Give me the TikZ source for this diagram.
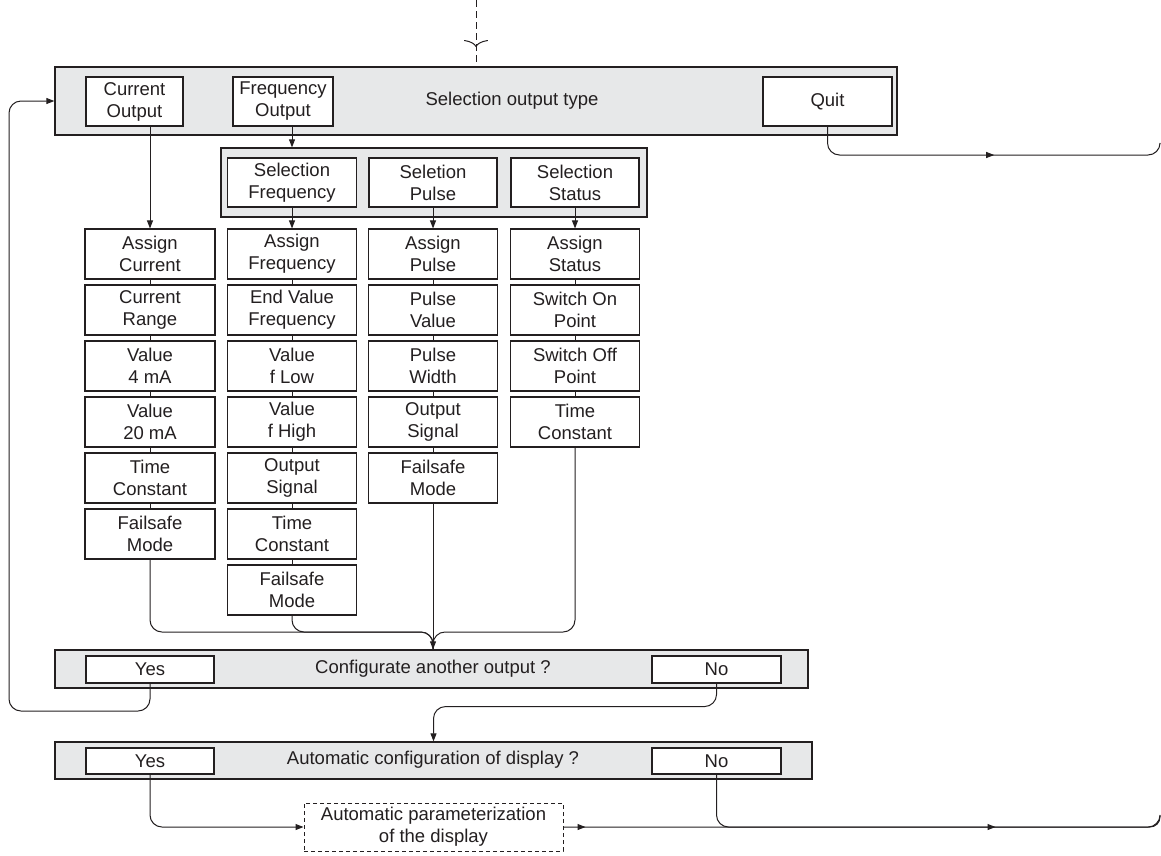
\documentclass[tikz,border=0pt]{standalone}
\usepackage{fontspec}
\setmainfont{Liberation Sans}
\usetikzlibrary{arrows.meta,positioning,calc,decorations.markings}

\definecolor{ink}{RGB}{35,31,32}
\definecolor{panelgray}{RGB}{231,232,233}

\tikzset{
  panel/.style={draw=ink, fill=panelgray, line width=1.3pt, inner sep=0pt},
  btn/.style={draw=ink, fill=white, line width=1.1pt, align=center, inner sep=0pt},
  stepbox/.style={btn, minimum width=129pt, minimum height=50pt},
  flow/.style={draw=ink, line width=1pt},
  flowarrow/.style={-{Triangle[length=8pt,width=6pt]}},
  midarrow/.style={postaction={decorate, decoration={markings,
    mark=at position #1 with {\arrow{Triangle[length=8pt,width=6pt]}}}}},
  entrytip/.style={postaction={decorate, decoration={markings,
    mark=at position #1 with {\arrow{To[length=7pt,width=24pt]}}}}},
}

\begin{document}
\begin{tikzpicture}[x=1pt, y=-1pt, font=\fontsize{18.5}{22}\selectfont, color=ink]
\useasboundingbox (0,0) rectangle (1161,855);

% Output type
\node[panel, minimum width=842pt, minimum height=68pt] (outpanel) at (476,101) {};
\node[btn, minimum width=97pt, minimum height=49pt] (curout) at (134.5,101.5) {Current\\Output};
\node[btn, minimum width=100pt, minimum height=49pt] (freqout) at (283,101.5) {Frequency\\Output};
\node (outlabel) at (512,101) {Selection output type};
\node[btn, minimum width=129pt, minimum height=49pt] (quit) at (827.5,101.5) {Quit};

% Frequency output type
\node[panel, minimum width=426pt, minimum height=69pt] (selpanel) at (434,182.5) {};
\node[btn, minimum width=129pt, minimum height=49pt] (selfreq) at (292,182.5) {Selection\\Frequency};
\node[btn, minimum width=128pt, minimum height=49pt] (selpuls) at (433,182.5) {Seletion\\Pulse};
\node[btn, minimum width=128pt, minimum height=49pt] (selstat) at (575,182.5) {Selection\\Status};

% Current column
\node[stepbox, minimum width=130pt] (cur1) at (150,254) {Assign\\Current};
\node[stepbox, minimum width=130pt] (cur2) at (150,310) {Current\\Range};
\node[stepbox, minimum width=130pt] (cur3) at (150,366) {Value\\4 mA};
\node[stepbox, minimum width=130pt] (cur4) at (150,422) {Value\\20 mA};
\node[stepbox, minimum width=130pt] (cur5) at (150,478) {Time\\Constant};
\node[stepbox, minimum width=130pt] (cur6) at (150,534) {Failsafe\\Mode};

% Frequency column
\node[stepbox] (fre1) at (292,254) {Assign\\Frequency};
\node[stepbox] (fre2) at (292,310) {End Value\\Frequency};
\node[stepbox] (fre3) at (292,366) {Value\\f Low};
\node[stepbox] (fre4) at (292,422) {Value\\f High};
\node[stepbox] (fre5) at (292,478) {Output\\Signal};
\node[stepbox] (fre6) at (292,534) {Time\\Constant};
\node[stepbox] (fre7) at (292,590) {Failsafe\\Mode};

% Pulse column
\node[stepbox] (pul1) at (433,254) {Assign\\Pulse};
\node[stepbox] (pul2) at (433,310) {Pulse\\Value};
\node[stepbox] (pul3) at (433,366) {Pulse\\Width};
\node[stepbox] (pul4) at (433,422) {Output\\Signal};
\node[stepbox] (pul5) at (433,478) {Failsafe\\Mode};

% Status column
\node[stepbox] (sta1) at (575,254) {Assign\\Status};
\node[stepbox] (sta2) at (575,310) {Switch On\\Point};
\node[stepbox] (sta3) at (575,366) {Switch Off\\Point};
\node[stepbox] (sta4) at (575,422) {Time\\Constant};

% Another output
\node[panel, minimum width=753pt, minimum height=38pt] (cfgpanel) at (431.5,669) {};
\node[btn, minimum width=128pt, minimum height=27pt] (cfgyes) at (150,669.5) {Yes};
\node (cfglabel) at (433,669) {Configurate another output ?};
\node[btn, minimum width=129pt, minimum height=27pt] (cfgno) at (716.5,669.5) {No};

% Display
\node[panel, minimum width=757pt, minimum height=37pt] (autopanel) at (433.5,760.5) {};
\node[btn, minimum width=128pt, minimum height=26pt] (autoyes) at (150,761) {Yes};
\node (autolabel) at (433,759.5) {Automatic configuration of display ?};
\node[btn, minimum width=129pt, minimum height=26pt] (autono) at (716.5,761) {No};
\node[btn, line width=1pt, dash pattern=on 4pt off 3pt, minimum width=259pt, minimum height=48pt]
  (dispbox) at (433.5,827) {Automatic parameterization\\of the display};

% Coordinates
\coordinate (entry) at (476,0);
\coordinate (quitturn) at (1160,155);
\coordinate (quitend) at (1160,144);
\coordinate (join) at (433,632);
\coordinate (backturn) at (9,711);
\coordinate (dispturn) at (1160,827);
\coordinate (dispend) at (1160,816);

% Connectors
\draw[flow, dash pattern=on 7pt off 4pt, entrytip=47pt] (entry) -- (outpanel.north);
\draw[flow, rounded corners=12pt, midarrow=190pt] (quit.south) |- (quitturn) -- (quitend);
\draw[flow, flowarrow] (curout.south -| cur1) -- (cur1.north);
\draw[flow, flowarrow] (freqout.south -| selfreq) -- (selpanel.north -| selfreq);
\draw[flow, flowarrow] (selfreq) -- (fre1);
\draw[flow, flowarrow] (selpuls) -- (pul1);
\draw[flow, flowarrow] (selstat) -- (sta1);

\foreach \a/\b in {cur1/cur2, cur2/cur3, cur3/cur4, cur4/cur5, cur5/cur6,
                   fre1/fre2, fre2/fre3, fre3/fre4, fre4/fre5, fre5/fre6, fre6/fre7,
                   pul1/pul2, pul2/pul3, pul3/pul4, pul4/pul5,
                   sta1/sta2, sta2/sta3, sta3/sta4}
  \draw[flow] (\a) -- (\b);

\draw[flow, rounded corners=12pt] (cur6.south) |- (join) -- (cfgpanel.north -| join);
\draw[flow, rounded corners=12pt] (fre7.south) |- (join) -- (cfgpanel.north -| join);
\draw[flow, rounded corners=12pt] (sta4.south) |- (join) -- (cfgpanel.north -| join);
\draw[flow, flowarrow] (pul5.south) -- (cfgpanel.north -| pul5);

\draw[flow, flowarrow, rounded corners=12pt] (cfgyes.south) |- (backturn) |- (outpanel.west);
\draw[flow, flowarrow, rounded corners=12pt] (cfgno.south) -- ++(0,23) -| (autopanel.north);

\draw[flow, flowarrow, rounded corners=12pt] (autoyes.south) |- (dispbox.west);
\draw[flow, rounded corners=10pt, midarrow=22pt, midarrow=432pt] (dispbox.east) -- (dispturn) -- (dispend);
\draw[flow, rounded corners=12pt] (autono.south) |- (dispturn) -- (dispend);

\end{tikzpicture}
\end{document}
